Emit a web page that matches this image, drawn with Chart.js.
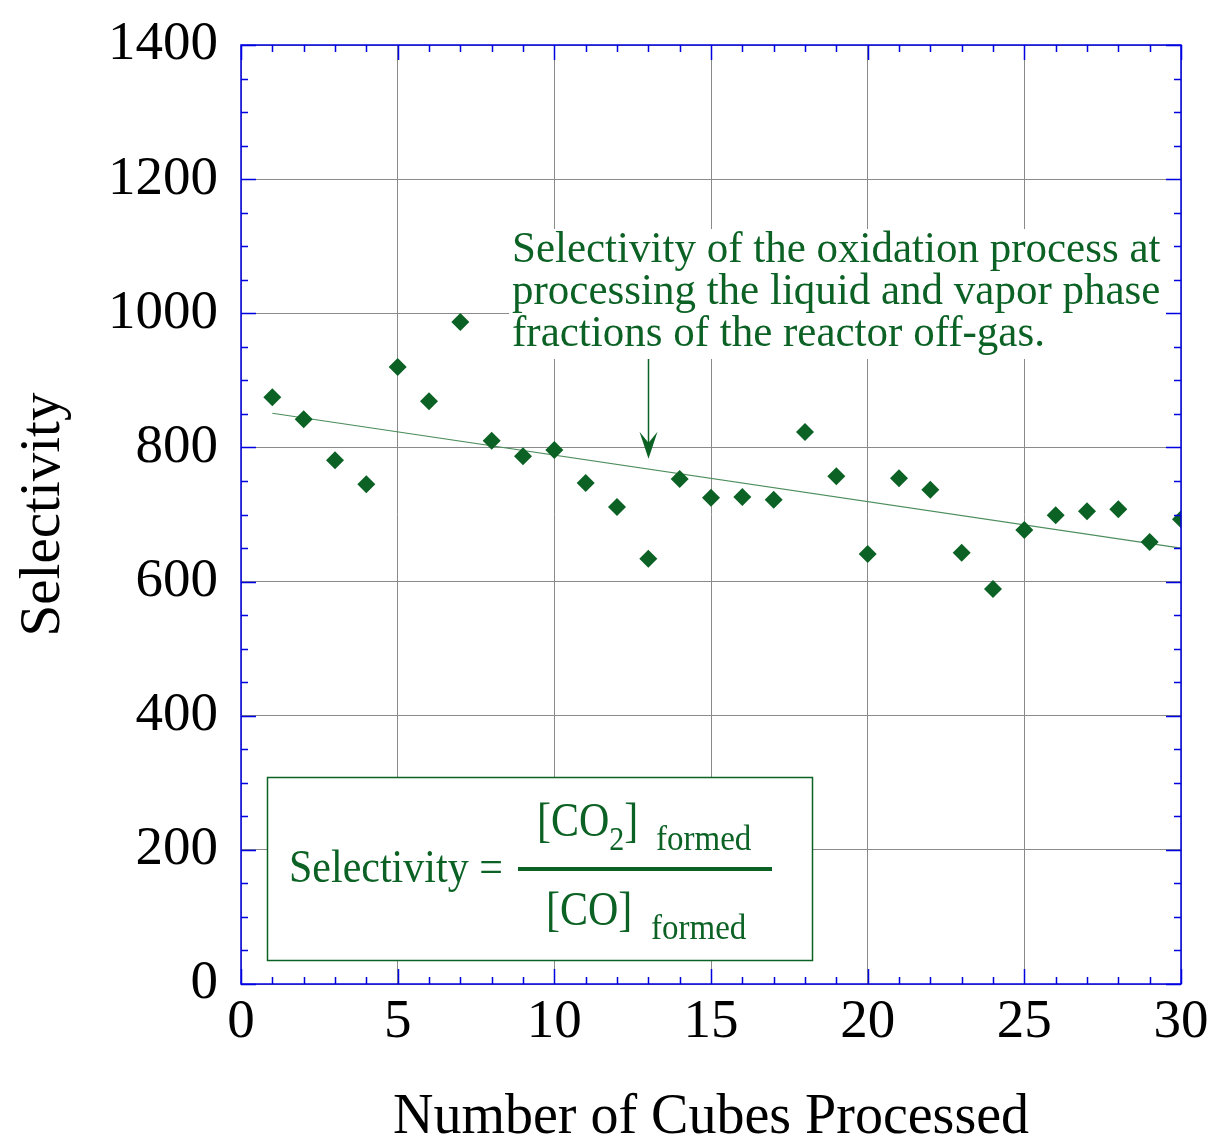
<!DOCTYPE html>
<html>
<head>
<meta charset="utf-8">
<script src="https://cdn.jsdelivr.net/npm/chart.js@4.4.0/dist/chart.umd.min.js"></script>
<style>
  body { margin: 0; background: #fff; }
  canvas { display: block; }
</style>
</head>
<body>
<canvas id="selChart" width="1215" height="1141"></canvas>
<script>
// data
const cubes = [1, 2, 3, 4, 5, 6, 7, 8, 9, 10, 11, 12, 13, 14, 15,
               16, 17, 18, 19, 20, 21, 22, 23, 24, 25, 26, 27, 28, 29, 30];
const selectivity = [875, 842, 781, 745, 920, 869, 987, 810, 787, 796, 747, 711, 634, 753, 725,
                     726, 722, 823, 757, 641, 754, 737, 643, 589, 677, 699, 705, 708, 659, 693];
const fitX = [1, 30];
const fitY = [851, 650];
const xTicks = [0, 5, 10, 15, 20, 25, 30];
const yTicks = [0, 200, 400, 600, 800, 1000, 1200, 1400];

const noteLines = [
  'Selectivity of the oxidation process at',
  'processing the liquid and vapor phase',
  'fractions of the reactor off-gas.'
];

const GREEN = '#0b6224';
const BLUE = '#0000e0';
const SERIF = '"Liberation Serif", "Times New Roman", serif';

// text slightly stretched vertically, like the original's serif
function tallText(ctx, str, x, y, size, sy) {
  ctx.save();
  ctx.font = size + 'px ' + SERIF;
  ctx.translate(x, y);
  ctx.scale(1, sy);
  ctx.fillText(str, 0, 0);
  const w = ctx.measureText(str).width;
  ctx.restore();
  return w;
}

// frame, minor ticks and the two text boxes
const decor = {
  id: 'decor',
  beforeDatasetsDraw(chart) {
    const ctx = chart.ctx;
    ctx.save();

    // note box (white, covers grid)
    ctx.fillStyle = '#fff';
    ctx.fillRect(509, 229, 660, 130);
    ctx.fillStyle = GREEN;
    ctx.textBaseline = 'alphabetic';
    noteLines.forEach((t, i) => tallText(ctx, t, 512, 262 + i * 42, 43, 1.04));

    // arrow pointing at the fit line
    const xs = chart.scales.x, ys = chart.scales.y;
    const ax = Math.round(xs.getPixelForValue(13)) + 0.5;
    const tip = ys.getPixelForValue(783);
    ctx.strokeStyle = GREEN;
    ctx.lineWidth = 1.5;
    ctx.beginPath();
    ctx.moveTo(ax, 359);
    ctx.lineTo(ax, tip - 10);
    ctx.stroke();
    ctx.beginPath();
    ctx.moveTo(ax, tip);
    ctx.lineTo(ax - 9, tip - 27);
    ctx.lineTo(ax, tip - 16);
    ctx.lineTo(ax + 9, tip - 27);
    ctx.closePath();
    ctx.fill();

    // formula box
    ctx.fillStyle = '#fff';
    ctx.fillRect(267, 777, 545, 183);
    ctx.strokeStyle = GREEN;
    ctx.lineWidth = 1.5;
    ctx.strokeRect(267.5, 777.5, 545, 183);

    ctx.fillStyle = GREEN;
    tallText(ctx, 'Selectivity =', 289, 882, 42, 1.08);

    // numerator
    let x = 537;
    x += tallText(ctx, '[CO', x, 836, 42, 1.18);
    x += tallText(ctx, '2', x, 850, 30, 1.15);
    tallText(ctx, ']', x, 836, 42, 1.18);
    tallText(ctx, 'formed', 656, 850, 33, 1.08);

    ctx.fillRect(518, 867, 254, 4);

    // denominator
    tallText(ctx, '[CO]', 546, 925, 42, 1.18);
    tallText(ctx, 'formed', 651, 939, 33, 1.08);

    ctx.restore();
  },
  afterDraw(chart) {
    const ctx = chart.ctx;
    const {left, right, top, bottom} = chart.chartArea;
    const xs = chart.scales.x, ys = chart.scales.y;
    ctx.save();
    ctx.strokeStyle = BLUE;
    ctx.lineWidth = 1.5;
    ctx.strokeRect(left, top, right - left, bottom - top);
    ctx.beginPath();
    for (let v = 0; v <= 30; v++) {
      const px = Math.round(xs.getPixelForValue(v)) + 0.5;
      const len = v % 5 === 0 ? 15 : 7;
      ctx.moveTo(px, bottom); ctx.lineTo(px, bottom - len);
      ctx.moveTo(px, top); ctx.lineTo(px, top + len);
    }
    for (let v = 0; v <= 1400; v += 50) {
      const py = Math.round(ys.getPixelForValue(v)) + 0.5;
      const len = v % 200 === 0 ? 15 : 7;
      ctx.moveTo(left, py); ctx.lineTo(left + len, py);
      ctx.moveTo(right, py); ctx.lineTo(right - len, py);
    }
    ctx.stroke();
    ctx.restore();
  }
};

const ctx = document.getElementById('selChart').getContext('2d');
const selChart = new Chart(ctx, {
  type: 'scatter',
  data: {
    datasets: [
      {
        label: 'Selectivity',
        data: cubes.map((c, i) => ({ x: c, y: selectivity[i] })),
        pointStyle: 'rectRot',
        pointRadius: 9,
        pointBackgroundColor: GREEN,
        pointBorderColor: GREEN,
        pointBorderWidth: 0,
        showLine: false
      },
      {
        label: 'Fit',
        data: fitX.map((v, i) => ({ x: v, y: fitY[i] })),
        showLine: true,
        pointRadius: 0,
        borderColor: '#4c8d5c',
        borderWidth: 1.2
      }
    ]
  },
  options: {
    responsive: false,
    animation: false,
    events: [],
    layout: { padding: { top: 45, right: 34, left: 0, bottom: 0 } },
    plugins: { legend: { display: false }, tooltip: { enabled: false } },
    scales: {
      x: {
        type: 'linear',
        min: 0,
        max: 30,
        afterBuildTicks: s => { s.ticks = xTicks.map(v => ({ value: v })); },
        afterFit: s => { s.height = 157; },
        grid: { color: '#8a8a8a', lineWidth: 1, drawTicks: false },
        border: { display: false },
        ticks: {
          color: '#000',
          padding: 6,
          maxRotation: 0,
          callback: v => String(v),
          font: { family: SERIF, size: 55 }
        },
        title: {
          display: true,
          text: 'Number of Cubes Processed',
          color: '#000',
          padding: { top: 0, bottom: -11 },
          font: { family: SERIF, size: 56 }
        }
      },
      y: {
        type: 'linear',
        min: 0,
        max: 1400,
        afterBuildTicks: s => { s.ticks = yTicks.map(v => ({ value: v })); },
        afterFit: s => { s.width = 241; s.paddingTop = 0; s.paddingBottom = 0; },
        grid: { color: '#8a8a8a', lineWidth: 1, drawTicks: false },
        border: { display: false },
        ticks: {
          color: '#000',
          padding: 23,
          callback: v => String(v),
          font: { family: SERIF, size: 55 }
        },
        title: {
          display: true,
          text: 'Selectivity',
          color: '#000',
          padding: { top: 10, bottom: 0 },
          font: { family: SERIF, size: 57 }
        }
      }
    }
  },
  plugins: [decor]
});
</script>
</body>
</html>
